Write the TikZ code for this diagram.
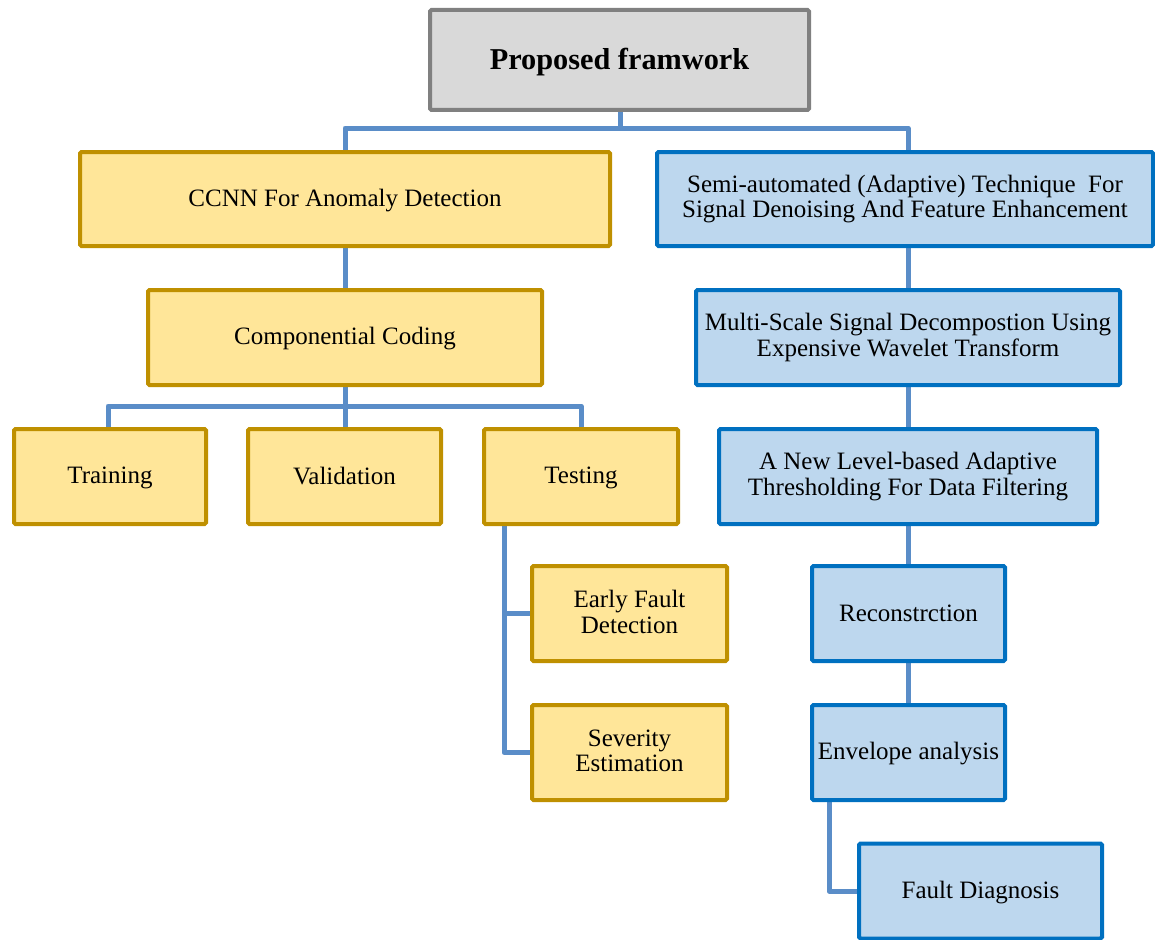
\documentclass[tikz,border=0pt]{standalone}
\usepackage{fontspec}
\setmainfont{Liberation Serif}
\usetikzlibrary{backgrounds}
\definecolor{linkblue}{HTML}{5A8DC8}
\definecolor{greyedge}{HTML}{808080}
\definecolor{greyfill}{HTML}{D9D9D9}
\definecolor{goldedge}{HTML}{BF9000}
\definecolor{goldfill}{HTML}{FFE699}
\definecolor{blueedge}{HTML}{0070C0}
\definecolor{bluefill}{HTML}{BDD7EE}
\tikzset{
  box/.style={draw, line width=4pt, rounded corners=1.5pt, inner sep=0pt,
    align=center, font=\fontsize{25}{25.5}\selectfont,
    execute at begin node={\vrule height 20pt depth 0pt width 0pt},
    execute at end node={\vrule height 0pt depth 3.8pt width 0pt}},
  rootbox/.style={box, draw=greyedge, fill=greyfill,
    font=\fontsize{30.3}{32}\selectfont\bfseries,
    execute at begin node={\vrule height 26pt depth 0pt width 0pt},
    execute at end node={\vrule height 0pt depth 2pt width 0pt}},
  goldbox/.style={box, draw=goldedge, fill=goldfill},
  bluebox/.style={box, draw=blueedge, fill=bluefill},
  conn/.style={draw=linkblue, line width=5pt, line join=round}
}
\begin{document}
\begin{tikzpicture}[x=1pt,y=-1pt]
\useasboundingbox (0,0) rectangle (1155,939);

% root
\node[rootbox, minimum width=379pt, minimum height=100pt] (root) at (619.5,60) {Proposed framwork};

% left branch: anomaly detection
\node[goldbox, minimum width=530pt, minimum height=94pt] (ccnn) at (345,199) {CCNN For Anomaly Detection};
\node[goldbox, minimum width=394pt, minimum height=95pt] (comp) at (345,337.5) {Componential Coding};
\node[goldbox, minimum width=192pt, minimum height=95pt] (train) at (110,476.5) {Training};
\node[goldbox, minimum width=193pt, minimum height=95pt] (valid) at (344.5,476.5) {Validation};
\node[goldbox, minimum width=194pt, minimum height=95pt] (test) at (581,476.5) {Testing};
\node[goldbox, minimum width=195pt, minimum height=95pt] (early) at (629.5,613.5) {Early Fault\\Detection};
\node[goldbox, minimum width=195pt, minimum height=95pt] (sev) at (629.5,752.5) {Severity\\Estimation};

% right branch: denoising and diagnosis
\node[bluebox, minimum width=496pt, minimum height=94pt] (semi) at (905,199) {Semi-automated (Adaptive) Technique\ \ For\\Signal Denoising And Feature Enhancement};
\node[bluebox, minimum width=424pt, minimum height=95pt] (multi) at (908,337.5) {Multi-Scale Signal Decompostion Using\\Expensive Wavelet Transform};
\node[bluebox, minimum width=378pt, minimum height=95pt] (level) at (908,476.5) {A New Level-based Adaptive\\Thresholding For Data Filtering};
\node[bluebox, minimum width=193pt, minimum height=95pt] (recon) at (908.5,613.5) {Reconstrction};
\node[bluebox, minimum width=193pt, minimum height=95pt] (env) at (908.5,752.5) {Envelope analysis};
\node[bluebox, minimum width=243pt, minimum height=95pt] (diag) at (980.5,891) {Fault Diagnosis};

% connectors
\coordinate (j1) at (620,128);
\coordinate (j2) at (345,406);
\coordinate (tb) at (504,520);
\coordinate (eb) at (829,800);
\begin{scope}[on background layer]
  \draw[conn] (root.south -| j1) -- (j1);
  \draw[conn] (j1) -| (ccnn.north);
  \draw[conn] (j1) -| (multi.north |- semi.north);
  \draw[conn] (ccnn.south) -- (comp.north);
  \draw[conn] (comp.south) -- (j2);
  \draw[conn] (j2) -| ([xshift=-2pt]train.north);
  \draw[conn] (j2) -- (valid.north -| j2);
  \draw[conn] (j2) -| (test.north);
  \draw[conn] (tb) |- (early.west);
  \draw[conn] (tb) |- (sev.west);
  \draw[conn] (multi.north |- semi.south) -- (multi.north);
  \draw[conn] (multi.south) -- (level.north);
  \draw[conn] (level.south) -- (recon.north -| level.south);
  \draw[conn] (recon.south -| level.south) -- (env.north -| level.south);
  \draw[conn] (eb) |- (diag.west);
\end{scope}
\end{tikzpicture}
\end{document}
